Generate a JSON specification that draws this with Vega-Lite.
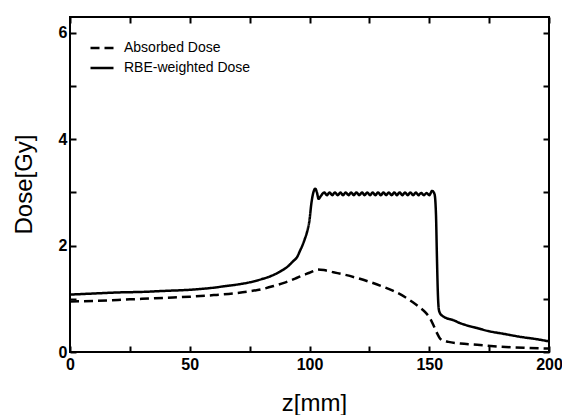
{
  "$schema": "https://vega.github.io/schema/vega-lite/v6.json",
  "width": 479,
  "height": 335,
  "autosize": {"type": "none"},
  "padding": {"left": 70, "top": 17, "right": 13, "bottom": 63},
  "background": "white",
  "config": {
    "view": {"stroke": "black", "strokeWidth": 2},
    "font": "Liberation Sans"
  },
  "datasets": {
    "doses": [
      {"z": 0, "dose": 0.95, "type": "Absorbed Dose"},
      {"z": 10, "dose": 0.96, "type": "Absorbed Dose"},
      {"z": 20, "dose": 0.98, "type": "Absorbed Dose"},
      {"z": 30, "dose": 1.0, "type": "Absorbed Dose"},
      {"z": 40, "dose": 1.02, "type": "Absorbed Dose"},
      {"z": 50, "dose": 1.04, "type": "Absorbed Dose"},
      {"z": 60, "dose": 1.07, "type": "Absorbed Dose"},
      {"z": 70, "dose": 1.11, "type": "Absorbed Dose"},
      {"z": 75, "dose": 1.14, "type": "Absorbed Dose"},
      {"z": 80, "dose": 1.18, "type": "Absorbed Dose"},
      {"z": 85, "dose": 1.24, "type": "Absorbed Dose"},
      {"z": 90, "dose": 1.31, "type": "Absorbed Dose"},
      {"z": 94, "dose": 1.38, "type": "Absorbed Dose"},
      {"z": 97, "dose": 1.44, "type": "Absorbed Dose"},
      {"z": 100, "dose": 1.49, "type": "Absorbed Dose"},
      {"z": 102, "dose": 1.53, "type": "Absorbed Dose"},
      {"z": 103.5, "dose": 1.55, "type": "Absorbed Dose"},
      {"z": 106, "dose": 1.54, "type": "Absorbed Dose"},
      {"z": 110, "dose": 1.5, "type": "Absorbed Dose"},
      {"z": 115, "dose": 1.45, "type": "Absorbed Dose"},
      {"z": 120, "dose": 1.39, "type": "Absorbed Dose"},
      {"z": 125, "dose": 1.32, "type": "Absorbed Dose"},
      {"z": 130, "dose": 1.24, "type": "Absorbed Dose"},
      {"z": 135, "dose": 1.15, "type": "Absorbed Dose"},
      {"z": 140, "dose": 1.03, "type": "Absorbed Dose"},
      {"z": 143, "dose": 0.94, "type": "Absorbed Dose"},
      {"z": 146, "dose": 0.84, "type": "Absorbed Dose"},
      {"z": 148.5, "dose": 0.74, "type": "Absorbed Dose"},
      {"z": 150.5, "dose": 0.62, "type": "Absorbed Dose"},
      {"z": 152, "dose": 0.48, "type": "Absorbed Dose"},
      {"z": 153.3, "dose": 0.35, "type": "Absorbed Dose"},
      {"z": 154.4, "dose": 0.26, "type": "Absorbed Dose"},
      {"z": 155.5, "dose": 0.22, "type": "Absorbed Dose"},
      {"z": 158, "dose": 0.19, "type": "Absorbed Dose"},
      {"z": 163, "dose": 0.16, "type": "Absorbed Dose"},
      {"z": 170, "dose": 0.135, "type": "Absorbed Dose"},
      {"z": 180, "dose": 0.1, "type": "Absorbed Dose"},
      {"z": 190, "dose": 0.08, "type": "Absorbed Dose"},
      {"z": 200, "dose": 0.065, "type": "Absorbed Dose"},
      {"z": 0, "dose": 1.08, "type": "RBE-weighted Dose"},
      {"z": 10, "dose": 1.1, "type": "RBE-weighted Dose"},
      {"z": 20, "dose": 1.12, "type": "RBE-weighted Dose"},
      {"z": 30, "dose": 1.13, "type": "RBE-weighted Dose"},
      {"z": 40, "dose": 1.15, "type": "RBE-weighted Dose"},
      {"z": 50, "dose": 1.17, "type": "RBE-weighted Dose"},
      {"z": 60, "dose": 1.21, "type": "RBE-weighted Dose"},
      {"z": 65, "dose": 1.24, "type": "RBE-weighted Dose"},
      {"z": 70, "dose": 1.27, "type": "RBE-weighted Dose"},
      {"z": 75, "dose": 1.31, "type": "RBE-weighted Dose"},
      {"z": 80, "dose": 1.37, "type": "RBE-weighted Dose"},
      {"z": 84, "dose": 1.43, "type": "RBE-weighted Dose"},
      {"z": 88, "dose": 1.52, "type": "RBE-weighted Dose"},
      {"z": 91, "dose": 1.61, "type": "RBE-weighted Dose"},
      {"z": 93, "dose": 1.7, "type": "RBE-weighted Dose"},
      {"z": 95, "dose": 1.8, "type": "RBE-weighted Dose"},
      {"z": 96, "dose": 1.9, "type": "RBE-weighted Dose"},
      {"z": 97, "dose": 2.0, "type": "RBE-weighted Dose"},
      {"z": 98, "dose": 2.12, "type": "RBE-weighted Dose"},
      {"z": 99, "dose": 2.26, "type": "RBE-weighted Dose"},
      {"z": 100, "dose": 2.48, "type": "RBE-weighted Dose"},
      {"z": 100.8, "dose": 2.8, "type": "RBE-weighted Dose"},
      {"z": 101.6, "dose": 3.0, "type": "RBE-weighted Dose"},
      {"z": 102.4, "dose": 3.07, "type": "RBE-weighted Dose"},
      {"z": 103.1, "dose": 3.0, "type": "RBE-weighted Dose"},
      {"z": 103.8, "dose": 2.88, "type": "RBE-weighted Dose"},
      {"z": 104.4, "dose": 2.91, "type": "RBE-weighted Dose"},
      {"z": 105.0, "dose": 2.95, "type": "RBE-weighted Dose"},
      {"z": 106.1, "dose": 3.0, "type": "RBE-weighted Dose"},
      {"z": 107.3, "dose": 2.95, "type": "RBE-weighted Dose"},
      {"z": 108.4, "dose": 3.0, "type": "RBE-weighted Dose"},
      {"z": 109.5, "dose": 2.95, "type": "RBE-weighted Dose"},
      {"z": 110.6, "dose": 3.0, "type": "RBE-weighted Dose"},
      {"z": 111.8, "dose": 2.95, "type": "RBE-weighted Dose"},
      {"z": 112.9, "dose": 3.0, "type": "RBE-weighted Dose"},
      {"z": 114.0, "dose": 2.95, "type": "RBE-weighted Dose"},
      {"z": 115.1, "dose": 3.0, "type": "RBE-weighted Dose"},
      {"z": 116.3, "dose": 2.95, "type": "RBE-weighted Dose"},
      {"z": 117.4, "dose": 3.0, "type": "RBE-weighted Dose"},
      {"z": 118.5, "dose": 2.95, "type": "RBE-weighted Dose"},
      {"z": 119.6, "dose": 3.0, "type": "RBE-weighted Dose"},
      {"z": 120.8, "dose": 2.95, "type": "RBE-weighted Dose"},
      {"z": 121.9, "dose": 3.0, "type": "RBE-weighted Dose"},
      {"z": 123.0, "dose": 2.95, "type": "RBE-weighted Dose"},
      {"z": 124.1, "dose": 3.0, "type": "RBE-weighted Dose"},
      {"z": 125.3, "dose": 2.95, "type": "RBE-weighted Dose"},
      {"z": 126.4, "dose": 3.0, "type": "RBE-weighted Dose"},
      {"z": 127.5, "dose": 2.95, "type": "RBE-weighted Dose"},
      {"z": 128.6, "dose": 3.0, "type": "RBE-weighted Dose"},
      {"z": 129.8, "dose": 2.95, "type": "RBE-weighted Dose"},
      {"z": 130.9, "dose": 3.0, "type": "RBE-weighted Dose"},
      {"z": 132.0, "dose": 2.95, "type": "RBE-weighted Dose"},
      {"z": 133.1, "dose": 3.0, "type": "RBE-weighted Dose"},
      {"z": 134.3, "dose": 2.95, "type": "RBE-weighted Dose"},
      {"z": 135.4, "dose": 3.0, "type": "RBE-weighted Dose"},
      {"z": 136.5, "dose": 2.95, "type": "RBE-weighted Dose"},
      {"z": 137.6, "dose": 3.0, "type": "RBE-weighted Dose"},
      {"z": 138.8, "dose": 2.95, "type": "RBE-weighted Dose"},
      {"z": 139.9, "dose": 3.0, "type": "RBE-weighted Dose"},
      {"z": 141.0, "dose": 2.95, "type": "RBE-weighted Dose"},
      {"z": 142.1, "dose": 3.0, "type": "RBE-weighted Dose"},
      {"z": 143.3, "dose": 2.95, "type": "RBE-weighted Dose"},
      {"z": 144.4, "dose": 3.0, "type": "RBE-weighted Dose"},
      {"z": 145.5, "dose": 2.95, "type": "RBE-weighted Dose"},
      {"z": 146.6, "dose": 2.99, "type": "RBE-weighted Dose"},
      {"z": 147.8, "dose": 2.95, "type": "RBE-weighted Dose"},
      {"z": 148.9, "dose": 2.99, "type": "RBE-weighted Dose"},
      {"z": 150.0, "dose": 2.95, "type": "RBE-weighted Dose"},
      {"z": 151.2, "dose": 3.03, "type": "RBE-weighted Dose"},
      {"z": 152.2, "dose": 2.97, "type": "RBE-weighted Dose"},
      {"z": 152.8, "dose": 2.6, "type": "RBE-weighted Dose"},
      {"z": 153.2, "dose": 1.8, "type": "RBE-weighted Dose"},
      {"z": 153.6, "dose": 1.1, "type": "RBE-weighted Dose"},
      {"z": 154.0, "dose": 0.8, "type": "RBE-weighted Dose"},
      {"z": 154.6, "dose": 0.72, "type": "RBE-weighted Dose"},
      {"z": 155.5, "dose": 0.68, "type": "RBE-weighted Dose"},
      {"z": 157, "dose": 0.64, "type": "RBE-weighted Dose"},
      {"z": 160, "dose": 0.6, "type": "RBE-weighted Dose"},
      {"z": 162.5, "dose": 0.55, "type": "RBE-weighted Dose"},
      {"z": 165, "dose": 0.51, "type": "RBE-weighted Dose"},
      {"z": 170, "dose": 0.45, "type": "RBE-weighted Dose"},
      {"z": 175, "dose": 0.39, "type": "RBE-weighted Dose"},
      {"z": 180, "dose": 0.35, "type": "RBE-weighted Dose"},
      {"z": 188.8, "dose": 0.28, "type": "RBE-weighted Dose"},
      {"z": 195, "dose": 0.24, "type": "RBE-weighted Dose"},
      {"z": 200, "dose": 0.2, "type": "RBE-weighted Dose"}
    ]
  },
  "data": {"name": "doses"},
  "layer": [
    {
      "transform": [{"filter": "datum.type === 'Absorbed Dose'"}],
      "mark": {"type": "line", "color": "black", "strokeWidth": 2.5, "interpolate": "monotone"},
      "encoding": {
        "x": {
          "field": "z", "type": "quantitative",
          "scale": {"domain": [0, 200], "nice": false, "zero": false},
          "axis": {
            "orient": "bottom", "values": [0, 25, 50, 75, 100, 125, 150, 175, 200],
            "labelExpr": "datum.value % 50 === 0 ? datum.label : ''",
            "tickSize": -6, "tickWidth": 2, "tickColor": "black", "domain": false, "grid": false,
            "labelFont": "Liberation Sans", "labelFontWeight": "bold", "labelFontSize": 16, "labelColor": "black",
            "labelPadding": 10, "labelFlush": false, "labelOverlap": false, "labelBound": false,
            "title": "z[mm]", "titleFont": "Liberation Sans", "titleFontSize": 24, "titleFontWeight": "normal", "titleColor": "black",
            "titleX": 244, "titleY": 51, "titleBaseline": "middle", "titleAlign": "center"
          }
        },
        "y": {
          "field": "dose", "type": "quantitative",
          "scale": {"domain": [0, 6.3], "nice": false, "zero": false},
          "axis": {
            "orient": "left", "values": [0, 1, 2, 3, 4, 5, 6],
            "labelExpr": "datum.value % 2 === 0 ? datum.label : ''",
            "tickSize": -6, "tickWidth": 2, "tickColor": "black", "domain": false, "grid": false,
            "labelFont": "Liberation Sans", "labelFontWeight": "bold", "labelFontSize": 16, "labelColor": "black",
            "labelPadding": 9, "labelFlush": false, "labelOverlap": false, "labelBound": false,
            "title": "Dose[Gy]", "titleFont": "Liberation Sans", "titleFontSize": 24, "titleFontWeight": "normal", "titleColor": "black",
            "titleX": -46, "titleY": 167, "titleBaseline": "middle", "titleAlign": "center", "titleAngle": -90
          }
        },
        "strokeDash": {
          "field": "type", "type": "nominal",
          "scale": {"domain": ["Absorbed Dose", "RBE-weighted Dose"], "range": [[9, 5], [1, 0]]},
          "legend": {
            "orient": "none", "legendX": 19, "legendY": 18, "title": null, "padding": 0,
            "symbolType": "stroke", "symbolSize": 529, "symbolStrokeWidth": 2.5, "symbolStrokeColor": "black",
            "labelFont": "Liberation Sans", "labelFontSize": 14, "labelColor": "black", "labelOffset": 9,
            "rowPadding": 0
          }
        }
      }
    },
    {
      "transform": [{"filter": "datum.type === 'RBE-weighted Dose'"}],
      "mark": {"type": "line", "color": "black", "strokeWidth": 2.5, "interpolate": "monotone"},
      "encoding": {
        "x": {
          "field": "z", "type": "quantitative",
          "scale": {"domain": [0, 200], "nice": false, "zero": false},
          "axis": {
            "orient": "top", "values": [0, 25, 50, 75, 100, 125, 150, 175, 200],
            "labels": false, "title": null,
            "tickSize": -6, "tickWidth": 2, "tickColor": "black", "domain": false, "grid": false
          }
        },
        "y": {
          "field": "dose", "type": "quantitative",
          "scale": {"domain": [0, 6.3], "nice": false, "zero": false},
          "axis": {
            "orient": "right", "values": [0, 1, 2, 3, 4, 5, 6],
            "labels": false, "title": null,
            "tickSize": -6, "tickWidth": 2, "tickColor": "black", "domain": false, "grid": false
          }
        },
        "strokeDash": {
          "field": "type", "type": "nominal",
          "scale": {"domain": ["Absorbed Dose", "RBE-weighted Dose"], "range": [[9, 5], [1, 0]]},
          "legend": {
            "orient": "none", "legendX": 19, "legendY": 18, "title": null, "padding": 0,
            "symbolType": "stroke", "symbolSize": 529, "symbolStrokeWidth": 2.5, "symbolStrokeColor": "black",
            "labelFont": "Liberation Sans", "labelFontSize": 14, "labelColor": "black", "labelOffset": 9,
            "rowPadding": 0
          }
        }
      }
    }
  ],
  "resolve": {"axis": {"x": "independent", "y": "independent"}}
}
